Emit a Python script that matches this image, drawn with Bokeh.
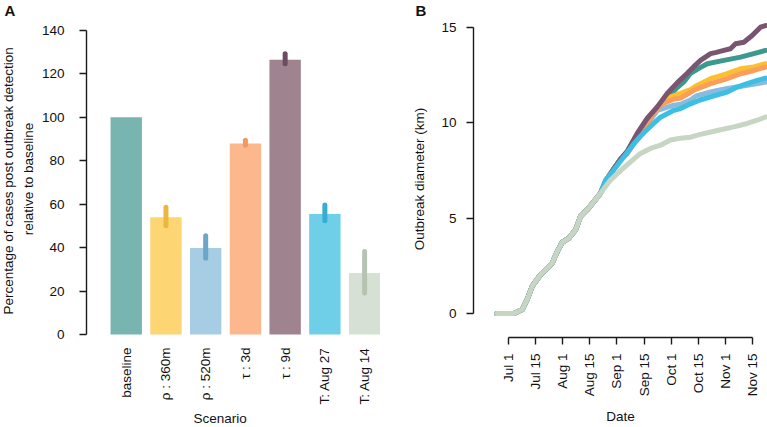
import math
from bokeh.plotting import figure
from bokeh.layouts import row
from bokeh.models import FixedTicker, Range1d, Title
from bokeh.embed import file_html
from bokeh.resources import INLINE

FONT = "Liberation Sans"
FS = "13.5px"
INK = "#1a1a1a"

# ---------------- Panel A data ----------------
scenarios = ["baseline", "ρ : 360m", "ρ : 520m", "τ : 3d", "τ : 9d", "T: Aug 27", "T: Aug 14"]
pct_cases = [100, 54.0, 39.8, 88.0, 126.5, 55.5, 28.3]
err_low = [None, 50.1, 35.1, 87.1, 124.7, 52.4, 19.1]
err_high = [None, 58.6, 45.5, 89.5, 129.3, 59.6, 38.2]
pct_ticks = [0, 20, 40, 60, 80, 100, 120, 140]

bar_colors = ["#78b5b0", "#fdd673", "#a7cde5", "#fdb78c", "#9f838f", "#70cfe8", "#d7e0d4"]
err_colors = ["#4f9f98", "#ebb83f", "#6ca6ca", "#ee9a62", "#6b4c62", "#38acd4", "#b6c3b1"]
line_colors = ["#3d9990", "#fbc02f", "#89bbdd", "#fc9e5a", "#7a5470", "#3dbfe4", "#c7d5c3"]

# ---------------- Panel B data (days since Jul 1, km) ----------------
date_ticks = [0, 15, 30, 45, 60, 75, 90, 105, 120, 135]
date_labels = ["Jul 1", "Jul 15", "Aug 1", "Aug 15", "Sep 1", "Sep 15", "Oct 1", "Oct 15", "Nov 1", "Nov 15"]
km_ticks = [0, 5, 10, 15]

shared_day = [-6.5, 3.0, 7.6, 10.3, 13.1, 17.7, 20.5, 24.2, 27.0, 29.7, 33.4, 37.1, 39.8, 43.5, 47.2, 50.9]
shared_km = [0, 0, 0.21, 0.73, 1.43, 2.04, 2.30, 2.65, 3.26, 3.73, 3.96, 4.39, 5.09, 5.44, 5.87, 6.31]

baseline_day = [54.0, 58.3, 62.0, 65.7, 71.2, 76.7, 82.3, 87.8, 93.3, 97.0, 100.7, 106.0, 110.0, 119.1, 128.4, 135.7, 142.2]
baseline_km = [7.0, 7.6, 8.1, 8.5, 9.4, 10.2, 10.8, 11.3, 11.85, 12.15, 12.6, 12.9, 13.1, 13.28, 13.45, 13.63, 13.8]

rho360_day = [54.0, 58.3, 62.0, 65.7, 71.2, 76.7, 82.0, 87.8, 95.2, 100.7, 104.0, 111.8, 121.0, 128.4, 135.7, 142.2]
rho360_km = [7.0, 7.6, 8.1, 8.4, 9.3, 10.0, 10.7, 11.3, 11.55, 11.75, 11.95, 12.32, 12.58, 12.84, 12.93, 13.1]

rho520_day = [54.0, 58.3, 62.0, 65.7, 71.2, 76.7, 82.3, 91.5, 95.2, 100.7, 104.0, 111.8, 121.0, 132.1, 142.2]
rho520_km = [7.0, 7.6, 8.1, 8.4, 9.2, 9.9, 10.66, 10.93, 10.98, 11.2, 11.42, 11.62, 11.8, 11.97, 12.14]

tau3_day = [54.0, 58.3, 62.0, 65.7, 71.2, 76.7, 80.0, 84.1, 91.5, 95.2, 102.5, 111.8, 121.0, 128.4, 135.7, 142.2]
tau3_km = [7.0, 7.6, 8.1, 8.4, 9.2, 9.9, 10.5, 10.95, 11.25, 11.3, 11.71, 12.06, 12.32, 12.58, 12.75, 12.93]

tau9_day = [54.0, 58.3, 62.0, 65.7, 71.2, 76.7, 82.3, 87.8, 93.3, 98.9, 102.5, 106.2, 111.8, 115.0, 119.1, 122.8, 125.6, 130.2, 134.8, 139.4, 142.2]
tau9_km = [7.0, 7.6, 8.1, 8.5, 9.45, 10.23, 10.84, 11.54, 12.1, 12.6, 12.95, 13.28, 13.63, 13.7, 13.8, 13.89, 14.15, 14.23, 14.58, 15.02, 15.1]

aug27_day = [53.7, 58.0, 62.0, 65.7, 69.3, 73.0, 76.7, 80.0, 84.1, 91.5, 95.2, 100.7, 106.0, 111.8, 121.0, 126.5, 132.1, 137.6, 142.2]
aug27_km = [7.0, 7.5, 8.0, 8.45, 8.9, 9.3, 9.65, 9.95, 10.3, 10.66, 10.75, 11.0, 11.2, 11.36, 11.62, 11.88, 12.06, 12.23, 12.35]

aug14_day = [56.4, 62.0, 67.5, 73.0, 78.6, 84.1, 89.6, 95.2, 100.7, 106.2, 115.5, 124.7, 132.1, 137.6, 142.2]
aug14_km = [7.0, 7.5, 7.96, 8.4, 8.66, 8.83, 9.1, 9.2, 9.25, 9.4, 9.6, 9.79, 9.97, 10.14, 10.31]

series_days = [baseline_day, rho360_day, rho520_day, tau3_day, tau9_day, aug27_day, aug14_day]
series_kms = [baseline_km, rho360_km, rho520_km, tau3_km, tau9_km, aug27_km, aug14_km]

H = 427
TOP = 20
BOTTOM = 89


def style_axis(ax):
    ax.axis_line_color = INK
    ax.axis_line_width = 1.4
    ax.major_tick_line_color = INK
    ax.major_tick_line_width = 1.4
    ax.minor_tick_line_color = None
    ax.major_tick_in = 0
    ax.major_tick_out = 7
    ax.major_label_text_font = FONT
    ax.major_label_text_font_size = FS
    ax.major_label_text_color = "#111111"
    ax.axis_label_text_font = FONT
    ax.axis_label_text_font_size = FS
    ax.axis_label_text_font_style = "normal"
    ax.axis_label_text_color = "#111111"


def side_title(text, align="center", offset=0, standoff=0, bold=False, size=FS, valign="bottom", lh=1.2):
    return Title(text=text, align=align, offset=offset, standoff=standoff,
                 text_font=FONT, text_font_size=size, vertical_align=valign,
                 text_line_height=lh,
                 text_font_style="bold" if bold else "normal", text_color="#111111")


# ---------------- Panel A ----------------
pA = figure(width=380, height=H, output_backend="svg", toolbar_location=None,
            x_range=Range1d(0, 7.4), y_range=Range1d(-1.377, 144.59),
            min_border_left=86, min_border_right=0, min_border_top=TOP, min_border_bottom=BOTTOM)
pA.outline_line_color = None
pA.grid.visible = False

xs = list(range(1, len(scenarios) + 1))
pA.vbar(x=xs, top=pct_cases, bottom=0, width=0.79, fill_color=bar_colors, line_color=None)
ex, elo, ehi, ecol = [], [], [], []
for i in range(len(scenarios)):
    if err_low[i] is not None:
        ex.append(xs[i]); elo.append(err_low[i]); ehi.append(err_high[i]); ecol.append(err_colors[i])
pA.segment(x0=ex, y0=elo, x1=ex, y1=ehi, line_color=ecol, line_width=5, line_cap="round")

ya = pA.yaxis[0]
style_axis(ya)
ya.ticker = FixedTicker(ticks=pct_ticks)
ya.bounds = (0, 140)
ya.major_label_standoff = 15
ya.axis_label = "relative to baseline"
ya.axis_label_standoff = 3

xa = pA.xaxis[0]
style_axis(xa)
xa.ticker = FixedTicker(ticks=xs)
xa.major_label_overrides = {x: s for x, s in zip(xs, scenarios)}
xa.axis_line_color = None
xa.major_tick_line_color = None
xa.major_tick_out = 0
xa.major_label_standoff = 10
xa.major_label_orientation = math.pi / 2

pA.add_layout(side_title("Percentage of  cases post outbreak detection", standoff=0, valign="top"), "left")
pA.add_layout(side_title("Scenario", align="left", offset=107, standoff=3, lh=1.0), "below")
pA.add_layout(side_title("A", align="left", offset=-82, standoff=0, bold=True, size="15px", valign="top"), "above")

# ---------------- Panel B ----------------
pB = figure(width=387, height=H, output_backend="svg", toolbar_location=None,
            x_range=Range1d(-19.37, 143.29), y_range=Range1d(-1.2546, 15.37),
            min_border_left=93, min_border_right=0, min_border_top=TOP, min_border_bottom=BOTTOM)
pB.outline_line_color = None
pB.grid.visible = False

for d, k, c in zip(series_days, series_kms, line_colors):
    pB.line(x=shared_day + d, y=shared_km + k, line_color=c, line_width=5,
            line_join="round", line_cap="round")

yb = pB.yaxis[0]
style_axis(yb)
yb.ticker = FixedTicker(ticks=km_ticks)
yb.bounds = (0, 15)
yb.major_label_standoff = 10
yb.axis_label = "Outbreak diameter (km)"
yb.axis_label_standoff = 11

xb = pB.xaxis[0]
style_axis(xb)
xb.ticker = FixedTicker(ticks=date_ticks)
xb.bounds = (0, 135)
xb.major_label_overrides = {t: s for t, s in zip(date_ticks, date_labels)}
xb.major_label_orientation = math.pi / 2
xb.major_label_standoff = 9
xb.axis_label = "Date"
xb.axis_label_standoff = 10
xb.axis_label_text_line_height = 1.0

pB.add_layout(side_title("B", align="left", offset=-58, standoff=0, bold=True, size="15px", valign="top"), "above")

layout = row(pA, pB)
open("out.html", "w").write(file_html(layout, INLINE))
